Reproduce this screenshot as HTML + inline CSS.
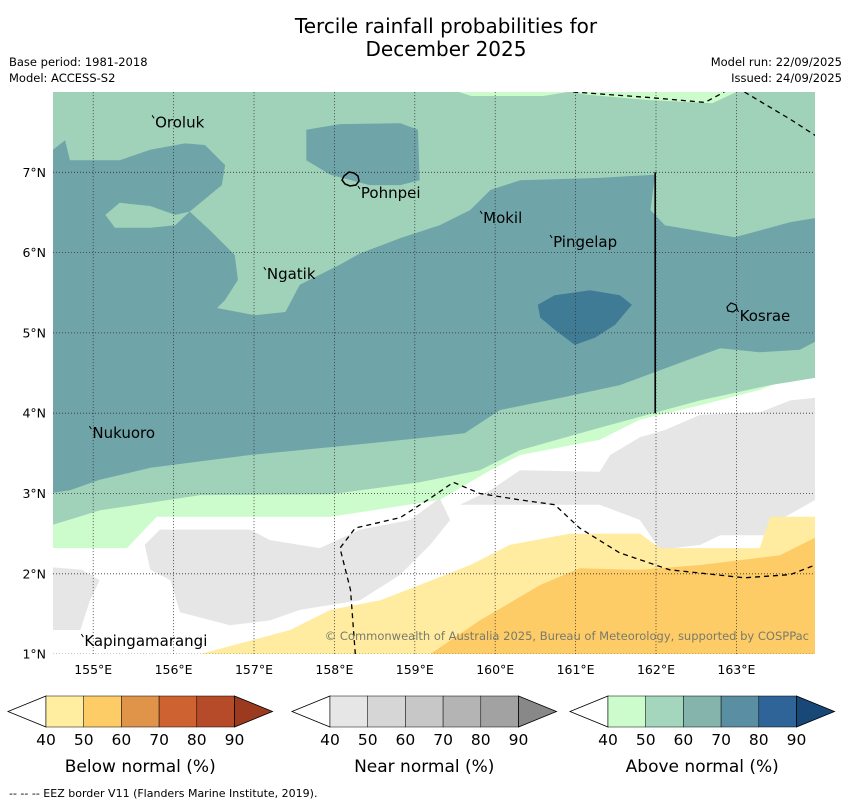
<!DOCTYPE html>
<html><head><meta charset="utf-8"><style>
body{margin:0;background:#fff;}
svg{display:block;font-family:"DejaVu Sans","Liberation Sans",sans-serif;}
</style></head><body>
<svg id="c" width="850" height="804" viewBox="0 0 850 804" xmlns="http://www.w3.org/2000/svg">
<text x="446" y="33" font-size="20" text-anchor="middle">Tercile rainfall probabilities for</text>
<text x="446" y="56" font-size="20" text-anchor="middle">December 2025</text>
<text x="9" y="66" font-size="11.5">Base period: 1981-2018</text>
<text x="9" y="82" font-size="11.5">Model: ACCESS-S2</text>
<text x="842" y="66" font-size="11.5" text-anchor="end">Model run: 22/09/2025</text>
<text x="842" y="82" font-size="11.5" text-anchor="end">Issued: 24/09/2025</text>
<defs><clipPath id="mc"><rect x="53" y="92" width="762" height="562"/></clipPath></defs>
<g id="map" clip-path="url(#mc)"></g>
<g id="over"></g>
<g id="bars"></g>
<text x="9" y="797" font-size="11">--  --  -- EEZ border V11 (Flanders Marine Institute, 2019).</text>
</svg>
<script>
const NS="http://www.w3.org/2000/svg";
const lonTicks=[155,156,157,158,159,160,161,162,163];
const latTicks=[1,2,3,4,5,6,7];
const lightStrip1=[[159.55,8],[160.9,8],[160.6,7.95],[159.7,7.95]];
const lightStrip2=[[160.97,8],[163.0,8],[162.7,7.86],[161.9,7.9],[161.1,7.97]];
const aboveLow=[[154.5,8],[163.98,8],[163.98,4.5],[163.79,4.48],[163.29,4.29],[162.55,4.1],[161.8,3.92],[161.3,3.67],[160.31,3.48],[159.94,3.29],[159.31,2.92],[157.95,2.71],[155.79,2.71],[155.42,2.32],[154.5,2.32]];
const aboveMid=[[154.5,8],[163.98,8],[163.98,4.44],[163.42,4.35],[162.55,4.16],[161.3,3.82],[160.31,3.54],[159.81,3.29],[159.06,3.14],[157.95,2.99],[156.33,2.98],[155.08,2.79],[154.5,2.61]];
const tealUpper=[[154.5,7.28],[154.65,7.4],[154.71,7.15],[155.33,7.15],[155.71,7.28],[156.14,7.36],[156.39,7.34],[156.64,7.09],[156.6,6.84],[156.2,6.51],[156.45,6.28],[156.76,5.97],[156.8,5.66],[156.64,5.41],[156.54,5.31],[157.01,5.22],[157.39,5.26],[157.57,5.6],[158.07,5.85],[158.32,5.99],[158.82,6.18],[159.31,6.34],[159.69,6.53],[159.94,6.78],[160.31,6.9],[161.3,6.93],[161.99,6.97],[161.93,6.53],[162.11,6.34],[162.98,6.19],[163.67,6.38],[163.98,6.43]];
const tealLower=[[154.5,3.01],[154.71,3.04],[155.08,3.17],[155.71,3.32],[156.95,3.48],[158.19,3.6],[159.06,3.69],[159.62,3.75],[160.06,4.04],[160.81,4.19],[161.55,4.35],[162.55,4.72],[162.8,4.81],[163.29,4.76],[163.79,4.79],[163.98,4.89]];
const greenPeninsula=[[155.15,6.47],[155.33,6.62],[155.71,6.58],[156.02,6.47],[156.2,6.51],[156.02,6.34],[155.71,6.31],[155.27,6.31]];
const tealBlob=[[157.65,7.53],[158.07,7.6],[158.82,7.61],[159.04,7.53],[159.06,6.9],[158.82,6.84],[158.44,6.84],[157.95,6.97],[157.65,7.15]];
const blueBlob=[[160.53,5.35],[160.74,5.47],[161.18,5.53],[161.55,5.47],[161.7,5.35],[161.49,5.1],[161.24,4.94],[160.99,4.85],[160.74,5.04],[160.56,5.19]];
const grayRight=[[159.56,2.86],[159.94,3.04],[160.31,3.29],[161.3,3.27],[161.43,3.48],[161.8,3.7],[162.11,3.79],[162.55,3.98],[163.29,4.01],[163.67,4.16],[163.98,4.19],[163.98,2.92],[163.54,2.67],[163.42,2.48],[162.8,2.48],[162.55,2.36],[162.05,2.3],[161.8,2.67],[161.3,2.86],[160.56,2.86]];
const grayLeft=[[155.64,2.36],[155.83,2.55],[156.95,2.55],[157.2,2.42],[157.82,2.32],[158.32,2.55],[158.94,2.67],[159.31,2.94],[159.44,2.67],[159.19,2.36],[158.82,1.99],[158.32,1.67],[157.57,1.55],[157.2,1.42],[156.7,1.36],[156.08,1.52],[155.96,1.92],[155.71,2.05]];
const grayFarLeft=[[154.5,2.08],[154.86,2.05],[155.08,1.92],[154.96,1.67],[154.84,1.3],[154.5,1.3]];
const belowLow=[[156.33,1.0],[157.45,1.3],[157.95,1.55],[158.57,1.67],[159.06,1.86],[159.69,2.11],[160.18,2.36],[160.93,2.5],[161.8,2.5],[162.05,2.32],[163.29,2.32],[163.42,2.71],[163.98,2.71],[163.98,1.0]];
const belowMid=[[159.19,1.0],[159.81,1.42],[160.56,1.86],[161.05,2.07],[161.8,2.05],[162.55,2.11],[163.54,2.23],[163.98,2.45],[163.98,1.0]];
const eez1=[[158.26,1.0],[158.2,1.8],[158.07,2.32],[158.26,2.57],[158.82,2.7],[159.19,2.94],[159.48,3.14],[159.81,3.0],[160.31,2.92],[160.74,2.86],[161.05,2.57],[161.55,2.26],[162.17,2.05],[163.1,1.95],[163.67,1.99],[163.98,2.11]];
const eez2=[[160.97,8.0],[161.93,7.93],[162.61,7.87],[162.85,8.0]];
const eez3=[[163.1,8.0],[163.67,7.66],[163.98,7.46]];
const places=["Oroluk","Pohnpei","Mokil","Pingelap","Ngatik","Kosrae","Nukuoro","Kapingamarangi"];
const placeLon=[155.77,158.33,159.85,160.72,157.16,163.04,154.99,154.89];
const placeLat=[7.56,6.68,6.37,6.07,5.67,5.15,3.69,1.1];
const sx=lon=>53+(lon-154.5)*80.4;
const sy=lat=>92+(8-lat)*80.3;
const map=document.getElementById('map'),over=document.getElementById('over');
function poly(g,pts,fill,name){const p=document.createElementNS(NS,'polygon');p.setAttribute('points',pts.map(q=>sx(q[0]).toFixed(1)+','+sy(q[1]).toFixed(1)).join(' '));p.setAttribute('fill',fill);


g.appendChild(p);}
function line(g,pts,stroke,dash,w,name){const p=document.createElementNS(NS,'polyline');p.setAttribute('points',pts.map(q=>sx(q[0]).toFixed(1)+','+sy(q[1]).toFixed(1)).join(' '));p.setAttribute('fill','none');p.setAttribute('stroke',stroke);p.setAttribute('stroke-width',w);if(dash)p.setAttribute('stroke-dasharray',dash);


g.appendChild(p);}
poly(map,aboveLow,'#ccfccb','above-40-50-region');
poly(map,aboveMid,'#9fd2b9','above-50-60-region');
poly(map,lightStrip1,'#ccfccb','above-40-50-top-strip');
poly(map,lightStrip2,'#ccfccb','above-40-50-top-strip');
poly(map,tealUpper.concat([[163.98,4.89]]).concat(tealLower.slice().reverse()),'#6fa4a8','above-60-70-region');
poly(map,greenPeninsula,'#9fd2b9','above-50-60-peninsula');
poly(map,tealBlob,'#6fa4a8','above-60-70-pohnpei-region');
poly(map,blueBlob,'#407b96','above-70-80-region');
poly(map,grayRight,'#e6e6e6','near-normal-region');
poly(map,grayLeft,'#e6e6e6','near-normal-region');
poly(map,grayFarLeft,'#e6e6e6','near-normal-region');
poly(map,belowLow,'#ffeca0','below-40-50-region');
poly(map,belowMid,'#fecc66','below-50-60-region');
lonTicks.forEach(l=>{const x=sx(l);line(map,[[l,1],[l,8]],'#333','1,2',0.8,'lon-gridline');
const t=document.createElementNS(NS,'text');t.setAttribute('x',x);t.setAttribute('y',674);t.setAttribute('font-size',12.5);t.setAttribute('text-anchor','middle');t.textContent=l+'°E';


over.appendChild(t);});
latTicks.forEach(l=>{line(map,[[154.5,l],[164,l]],'#333','1,2',0.8,'lat-gridline');
const t=document.createElementNS(NS,'text');t.setAttribute('x',46);t.setAttribute('y',sy(l)+4.5);t.setAttribute('font-size',12.5);t.setAttribute('text-anchor','end');t.textContent=l+'°N';


over.appendChild(t);});
line(map,eez1,'#000','5,4',1.3,'eez-border');
line(map,eez2,'#000','5,4',1.3,'eez-border');
line(map,eez3,'#000','5,4',1.3,'eez-border');
line(map,[[161.99,7.0],[161.99,4.0]],'#000',null,1.6,'eez-boundary-solid');
const isl1=document.createElementNS(NS,'path');isl1.setAttribute('d','M344,176 l5,-4 5,1 4,3 1,5 -3,4 -6,1 -5,-2 -3,-4z');isl1.setAttribute('fill','none');isl1.setAttribute('stroke','#000');isl1.setAttribute('stroke-width','1.5');


over.appendChild(isl1);
const isl2=document.createElementNS(NS,'path');isl2.setAttribute('d','M727,307 l4,-4 5,2 1,4 -4,3 -5,-1z');isl2.setAttribute('fill','none');isl2.setAttribute('stroke','#000');isl2.setAttribute('stroke-width','1.2');


over.appendChild(isl2);
places.forEach((n,i)=>{const x=sx(placeLon[i]),y=sy(placeLat[i]);
const m=document.createElementNS(NS,'line');m.setAttribute('x1',x-3);m.setAttribute('y1',y-12);m.setAttribute('x2',x-1);m.setAttribute('y2',y-9);m.setAttribute('stroke','#000');


over.appendChild(m);
const t=document.createElementNS(NS,'text');t.setAttribute('x',x);t.setAttribute('y',y);t.setAttribute('font-size',15);t.textContent=n;


over.appendChild(t);});
const cp=document.createElementNS(NS,'text');cp.setAttribute('x',809);cp.setAttribute('y',640);cp.setAttribute('font-size',11.5);cp.setAttribute('text-anchor','end');cp.setAttribute('fill','#7a7a6a');cp.textContent='© Commonwealth of Australia 2025, Bureau of Meteorology, supported by COSPPac';


over.appendChild(cp);
const barTicks=[40,50,60,70,80,90];
const barTitles=["Below normal (%)","Near normal (%)","Above normal (%)"];
const barColors=[["#ffeda0","#fecc66","#e0944a","#ce6230","#b54b28","#9c3a20"],["#e6e6e6","#d6d6d6","#c7c7c7","#b4b4b4","#a2a2a2","#888888"],["#ccfccb","#a3d6bd","#84b4ac","#5a8fa3","#2f6499","#174878"]];
const barX=[8,292,570];
const bars=document.getElementById('bars');
barX.forEach((bx,bi)=>{const w=37.7,x0=bx+38,y0=696,h=31;
function el(tag,attrs,name){const e=document.createElementNS(NS,tag);for(const k in attrs)e.setAttribute(k,attrs[k]);


bars.appendChild(e);return e;}
el('polygon',{points:`${bx},${y0+h/2} ${x0},${y0} ${x0},${y0+h}`,fill:'#fff',stroke:'#000','stroke-width':0.8},'colorbar-left-arrow');
for(let k=0;k<5;k++)el('rect',{x:x0+k*w,y:y0,width:w,height:h,fill:barColors[bi][k],stroke:'#000','stroke-width':0.5},'colorbar-segment');
const xe=x0+5*w;
el('polygon',{points:`${xe},${y0} ${xe+38},${y0+h/2} ${xe},${y0+h}`,fill:barColors[bi][5],stroke:'#000','stroke-width':0.8},'colorbar-right-arrow');
barTicks.forEach((v,k)=>{const t=el('text',{x:x0+k*w,y:745,'font-size':15.5,'text-anchor':'middle'},'colorbar-tick-label');t.textContent=v;});
const tt=el('text',{x:x0+2.5*w,y:772,'font-size':17,'text-anchor':'middle'},'colorbar-title');tt.textContent=barTitles[bi];});
</script>
</body></html>
